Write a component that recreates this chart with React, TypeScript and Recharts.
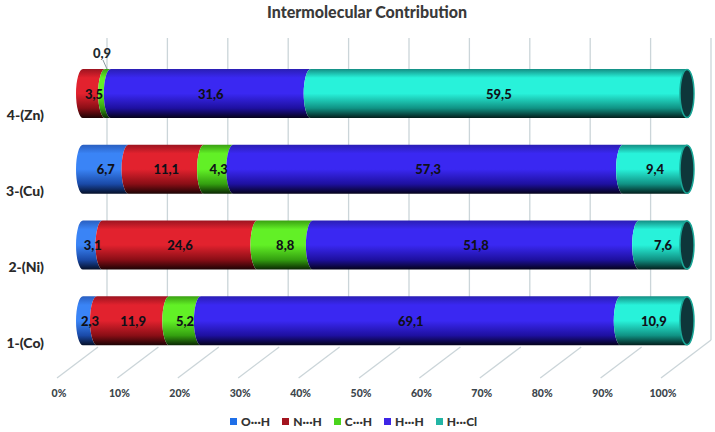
import { BarChart, Bar, XAxis, YAxis, CartesianGrid, LabelList } from 'recharts';

// Hirshfeld contributions (%) per complex, top row first
const CATEGORIES = ['4-(Zn)', '3-(Cu)', '2-(Ni)', '1-(Co)'];
const O_H = [0, 6.7, 3.1, 2.3];
const N_H = [3.5, 11.1, 24.6, 11.9];
const C_H = [0.9, 4.3, 8.8, 5.2];
const H_H = [31.6, 57.3, 51.8, 69.1];
const H_CL = [59.5, 9.4, 7.6, 10.9];
const X_TICKS = [0, 0.1, 0.2, 0.3, 0.4, 0.5, 0.6, 0.7, 0.8, 0.9, 1];

const data = CATEGORIES.map((name, i) => ({
  name,
  oh: O_H[i],
  nh: N_H[i],
  ch: C_H[i],
  hh: H_H[i],
  hcl: H_CL[i],
}));

const FONT = 'Lato, "Open Sans", sans-serif';
const DEPTH = 24; // shift of the back wall vs. the bars

// colours: legend swatch + vertical gradient stops (top .. bottom)
const SERIES = [
  { key: 'oh', name: 'O\u00b7\u00b7\u00b7H', swatch: '#1f6fe8', stops: ['#2a5fc0', '#3a84f6', '#1a4aa8', '#050f28'] },
  { key: 'nh', name: 'N\u00b7\u00b7\u00b7H', swatch: '#a3141e', stops: ['#9c1420', '#e2222e', '#8a0e16', '#1c0304'] },
  { key: 'ch', name: 'C\u00b7\u00b7\u00b7H', swatch: '#4ad41c', stops: ['#3aa012', '#62f026', '#34a010', '#0a2603'] },
  { key: 'hh', name: 'H\u00b7\u00b7\u00b7H', swatch: '#3d25e6', stops: ['#2a1eb4', '#3a28f2', '#1e10a0', '#04021a'] },
  { key: 'hcl', name: 'H\u00b7\u00b7\u00b7Cl', swatch: '#23b5a5', stops: ['#148e84', '#28f2da', '#109284', '#031e1c'] },
];

// cylinder slice: convex left edge, concave right edge (or end cap on last slice)
const makeShape = (isLast: boolean) => (props: any) => {
  const { x, y, width, height, fill } = props;
  if (!width || width <= 0) return <g />;
  const rx = 7;
  const ry = height / 2;
  const x2 = x + width;
  const d = `M${x},${y} L${x2},${y} A${rx},${ry} 0 0 ${isLast ? 1 : 0} ${x2},${y + height} L${x},${y + height} A${rx},${ry} 0 0 1 ${x},${y} Z`;
  return (
    <g>
      <path d={d} fill={fill} />
      {isLast && (
        <ellipse cx={x2} cy={y + ry} rx={rx} ry={ry - 0.5} fill="#0e363a" stroke="#1aa898" strokeWidth={1.5} />
      )}
    </g>
  );
};

const renderValue = (props: any) => {
  const { x, y, width, height, value } = props;
  if (!value) return null;
  const txt = String(value).replace('.', ',');
  const cx = x + width / 2;
  if (width < 12) {
    // too thin: label above with a leader line
    return (
      <g>
        <line x1={cx - 1} y1={y} x2={cx - 5} y2={y - 9} stroke="#8a9aa0" strokeWidth={1} />
        <text x={cx - 6} y={y - 16} textAnchor="middle" dominantBaseline="central"
          fontFamily={FONT} fontWeight={900} fontSize={13} fill="#1e2a30">{txt}</text>
      </g>
    );
  }
  return (
    <text x={cx} y={y + height / 2} textAnchor="middle" dominantBaseline="central"
      fontFamily={FONT} fontWeight={900} fontSize={13} fill="#101018">{txt}</text>
  );
};

const CategoryTick = (props: any) => {
  const { x, y, payload } = props;
  return (
    <text x={x - 39} y={y + 21} textAnchor="end" dominantBaseline="central"
      fontFamily={FONT} fontWeight={900} fontSize={14} fill="#2a2a2a">{payload.value}</text>
  );
};

// front-floor tick: diagonal floor line + percent label
const PercentTick = (props: any) => {
  const { x, y, payload } = props;
  const last = payload.value >= 1;
  return (
    <g>
      <line x1={last ? x + DEPTH : x + 15} y1={last ? y - 19 : y - 12} x2={x - 26} y2={y + 19}
        stroke="#cbd5d9" strokeWidth={1.3} />
      <text x={x - 24} y={y + 34} textAnchor="middle" dominantBaseline="central"
        fontFamily={FONT} fontWeight={900} fontSize={10.5} fill="#3c464c">
        {`${Math.round(payload.value * 100)}%`}
      </text>
    </g>
  );
};

const backGrid = (p: any) => {
  const o = (p && p.offset) || {};
  const left = o.left ?? 83;
  const w = o.width ?? 604;
  return X_TICKS.map((t) => left + t * w + DEPTH);
};

export default function App() {
  return (
    <div style={{ position: 'relative', width: 715, height: 432, background: '#fff', fontFamily: FONT }}>
      <style>{'body{margin:0}'}</style>
      <div style={{
        position: 'absolute', top: 0, left: 0, width: 715, paddingLeft: 19, boxSizing: 'border-box',
        textAlign: 'center', fontSize: 16, lineHeight: '24px', fontWeight: 900, color: '#3a3a3a',
      }}>
        Intermolecular Contribution
      </div>
      <BarChart
        width={715}
        height={432}
        data={data}
        layout="vertical"
        stackOffset="expand"
        barSize={49}
        margin={{ top: 56, right: 28, left: 0, bottom: 0 }}
      >
        <defs>
          {SERIES.map((s) => (
            <linearGradient key={s.key} id={`g-${s.key}`} x1="0" y1="0" x2="0" y2="1">
              <stop offset="0%" stopColor={s.stops[0]} />
              <stop offset="18%" stopColor={s.stops[1]} />
              <stop offset="50%" stopColor={s.stops[1]} />
              <stop offset="80%" stopColor={s.stops[2]} />
              <stop offset="100%" stopColor={s.stops[3]} />
            </linearGradient>
          ))}
        </defs>
        <CartesianGrid
          horizontal={false}
          vertical
          y={38}
          height={302}
          stroke="#cbd5d9"
          strokeWidth={1.3}
          verticalCoordinatesGenerator={backGrid}
        />
        <XAxis
          type="number"
          domain={[0, 1]}
          ticks={X_TICKS}
          height={73}
          axisLine={false}
          tickLine={false}
          tickSize={0}
          tickMargin={0}
          tick={<PercentTick />}
          interval={0}
        />
        <YAxis
          type="category"
          dataKey="name"
          width={83}
          axisLine={false}
          tickLine={false}
          tickSize={0}
          tickMargin={0}
          tick={<CategoryTick />}
        />
        {SERIES.map((s, i) => (
          <Bar
            key={s.key}
            dataKey={s.key}
            name={s.name}
            stackId="a"
            fill={`url(#g-${s.key})`}
            shape={makeShape(i === SERIES.length - 1)}
            isAnimationActive={false}
          >
            <LabelList dataKey={s.key} content={renderValue} />
          </Bar>
        ))}
      </BarChart>
      <div style={{
        position: 'absolute', top: 414, left: 230, display: 'flex', alignItems: 'center', gap: 12,
        fontSize: 12, fontWeight: 900, color: '#333',
      }}>
        {SERIES.map((s) => (
          <div key={s.key} style={{ display: 'flex', alignItems: 'center', gap: 4 }}>
            <span style={{ display: 'inline-block', width: 7, height: 7, background: s.swatch }} />
            <span>{s.name}</span>
          </div>
        ))}
      </div>
    </div>
  );
}
